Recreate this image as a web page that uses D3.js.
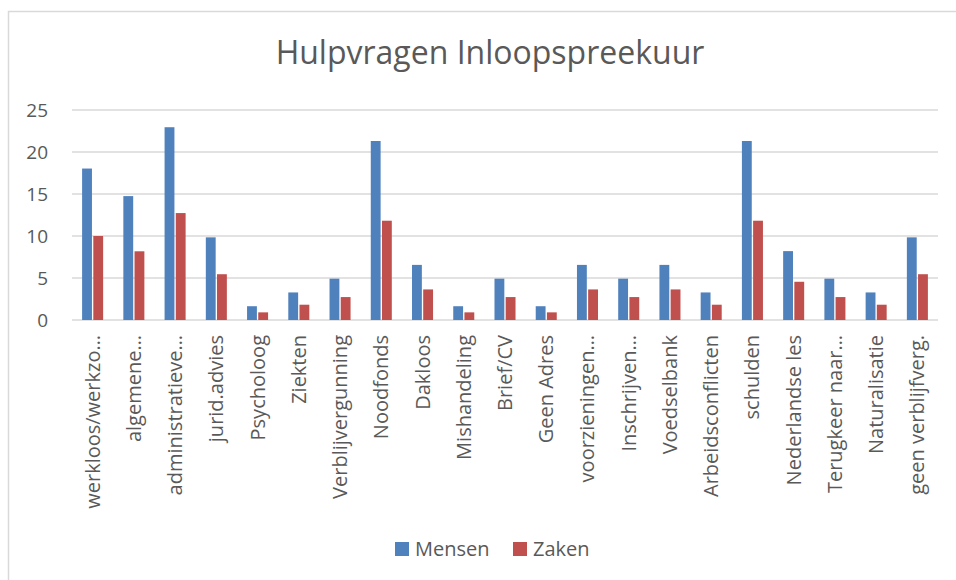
<!DOCTYPE html>
<html>
<head>
<meta charset="utf-8">
<script src="https://cdn.jsdelivr.net/npm/d3@7"></script>
<style>
  body { margin: 0; background: #fff; }
  text { font-family: "Open Sans", sans-serif; fill: #595959; }
</style>
</head>
<body>
<div id="chart"></div>
<script>
// categories and series
const categories = [
  "werkloos/werkzo…", "algemene…", "administratieve…", "jurid.advies", "Psycholoog",
  "Ziekten", "Verblijvergunning", "Noodfonds", "Dakloos", "Mishandeling",
  "Brief/CV", "Geen Adres", "voorzieningen…", "Inschrijven…", "Voedselbank",
  "Arbeidsconflicten", "schulden", "Nederlandse les", "Terugkeer naar…", "Naturalisatie",
  "geen verblijfverg."
];
const mensen = [18.03, 14.75, 22.95, 9.84, 1.64, 3.28, 4.92, 21.31, 6.56, 1.64,
  4.92, 1.64, 6.56, 4.92, 6.56, 3.28, 21.31, 8.2, 4.92, 3.28, 9.84];
const zaken = [10.0, 8.18, 12.73, 5.45, 0.91, 1.82, 2.73, 11.82, 3.64, 0.91,
  2.73, 0.91, 3.64, 2.73, 3.64, 1.82, 11.82, 4.55, 2.73, 1.82, 5.45];
const seriesNames = ["Mensen", "Zaken"];
const yTicks = [0, 5, 10, 15, 20, 25];
const colors = ["#4F81BD", "#C0504D"];

const width = 956, height = 580;
const plot = { left: 72, right: 938, top: 110, bottom: 320 };

const svg = d3.select("#chart").append("svg")
  .attr("width", width)
  .attr("height", height);

// chart frame (cropped at right and bottom like the reference)
svg.append("path")
  .attr("d", "M8.5,600 L8.5,11.5 L960,11.5")
  .attr("fill", "none")
  .attr("stroke", "#D9D9D9")
  .attr("stroke-width", 1.5);

svg.append("text")
  .attr("x", 490)
  .attr("y", 64)
  .attr("text-anchor", "middle")
  .style("font-size", "32px")
  .text("Hulpvragen Inloopspreekuur");

const y = d3.scaleLinear().domain([0, 25]).range([plot.bottom, plot.top]);
const x0 = d3.scaleBand().domain(categories).range([plot.left, plot.right])
  .paddingInner(0.49).paddingOuter(0.245);
const x1 = d3.scaleBand().domain(seriesNames).range([0, x0.bandwidth()]).paddingInner(0.12);

// gridlines
svg.append("g").selectAll("line")
  .data(yTicks)
  .enter().append("line")
  .attr("x1", plot.left).attr("x2", plot.right)
  .attr("y1", (d) => y(d)).attr("y2", (d) => y(d))
  .attr("stroke", "#D9D9D9")
  .attr("stroke-width", 1.3);

// y tick labels
svg.append("g").selectAll("text")
  .data(yTicks)
  .enter().append("text")
  .attr("x", 48)
  .attr("y", (d) => y(d))
  .attr("dy", "0.35em")
  .attr("text-anchor", "end")
  .style("font-size", "19px")
  .text((d) => d);

// bars
const rows = categories.map((c, i) => ({ cat: c, values: [mensen[i], zaken[i]] }));
const groups = svg.append("g").selectAll("g")
  .data(rows)
  .enter().append("g")
  .attr("transform", (d) => "translate(" + x0(d.cat) + ",0)");

groups.selectAll("rect")
  .data((d) => d.values.map((v, j) => ({ name: seriesNames[j], value: v, color: colors[j] })))
  .enter().append("rect")
  .attr("x", (d) => x1(d.name))
  .attr("y", (d) => y(d.value))
  .attr("width", x1.bandwidth())
  .attr("height", (d) => y(0) - y(d.value))
  .attr("fill", (d) => d.color);

// category labels, rotated
svg.append("g").selectAll("text")
  .data(categories)
  .enter().append("text")
  .attr("transform", (d) => "translate(" + (x0(d) + x0.bandwidth() / 2) + ",335) rotate(-90)")
  .attr("dy", "0.35em")
  .attr("text-anchor", "end")
  .style("font-size", "20px")
  .text((d) => d);

// legend
const legend = svg.append("g").attr("transform", "translate(395,542)");
const items = [{ name: "Mensen", x: 0 }, { name: "Zaken", x: 118 }];
items.forEach((it, i) => {
  legend.append("rect")
    .attr("x", it.x).attr("y", 0)
    .attr("width", 14).attr("height", 14)
    .attr("fill", colors[i]);
  legend.append("text")
    .attr("x", it.x + 20).attr("y", 7)
    .attr("dy", "0.35em")
    .style("font-size", "20px")
    .text(it.name);
});
</script>
</body>
</html>
